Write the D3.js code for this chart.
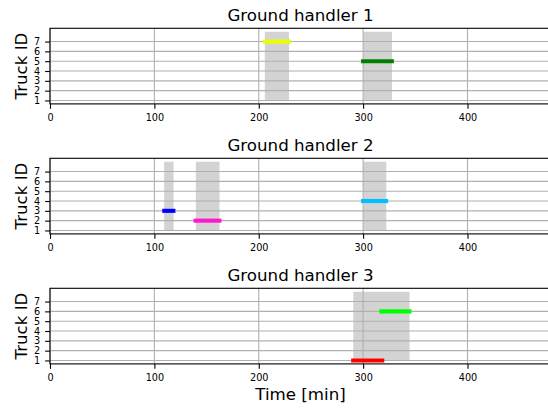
<!DOCTYPE html>
<html><head><meta charset="utf-8">
<script src="https://cdn.jsdelivr.net/npm/d3@7"></script>
<style>body{margin:0;background:#fff}svg{display:block;font-family:"DejaVu Sans",sans-serif}</style>
</head><body><svg id="c" width="548" height="412"></svg>
<script>
const handlers = ["Ground handler 1", "Ground handler 2", "Ground handler 3"];
const xTicks = [0, 100, 200, 300, 400];
const yTicks = [1, 2, 3, 4, 5, 6, 7];
// tasks (lines)
const taskHandler = [0, 0, 1, 1, 1, 2, 2];
const taskTruck   = [7, 5, 3, 2, 4, 1, 6];
const taskStart   = [206, 300, 109.5, 139.5, 300, 290.5, 317.5];
const taskEnd     = [229, 327.5, 118.2, 162.3, 322, 318.3, 344.4];
const taskColor   = ["#e8ff00", "#008000", "#0000ff", "#ff17cf", "#00bfff", "#ff0000", "#00ff00"];
// busy windows (grey boxes)
const boxHandler = [0, 0, 1, 1, 1, 2];
const boxStart   = [205.8, 300.2, 109.4, 139.7, 300.2, 290.6];
const boxEnd     = [229, 327.6, 118.4, 162.4, 322.2, 344.5];
const boxLow = 1, boxHigh = 8;
const xLabel = "Time [min]", yLabel = "Truck ID";

const svg = d3.select("#c");
const left = 50, right = 551, axH = 75.6;
const tops = [28.3, 158.3, 288.3];
const x = d3.scaleLinear().domain([0, 480]).range([left, right]);

handlers.forEach((name, h) => {
  const top = tops[h], bot = top + axH;
  const y = d3.scaleLinear().domain([0.65, 8.35]).range([bot, top]);
  const g = svg.append("g");
  // boxes
  boxHandler.forEach((bh, i) => {
    if (bh !== h) return;
    g.append("rect").attr("x", x(boxStart[i])).attr("width", x(boxEnd[i]) - x(boxStart[i]))
      .attr("y", y(boxHigh)).attr("height", y(boxLow) - y(boxHigh)).attr("fill", "#d3d3d3");
  });
  // grid
  xTicks.forEach(t => g.append("line").attr("x1", x(t)).attr("x2", x(t)).attr("y1", top).attr("y2", bot)
    .attr("stroke", "#b0b0b0").attr("stroke-width", 1.1));
  yTicks.forEach(t => g.append("line").attr("x1", left).attr("x2", right).attr("y1", y(t)).attr("y2", y(t))
    .attr("stroke", "#b0b0b0").attr("stroke-width", 1.1));
  // task lines
  taskHandler.forEach((th, i) => {
    if (th !== h) return;
    g.append("line").attr("x1", x(taskStart[i])).attr("x2", x(taskEnd[i]))
      .attr("y1", y(taskTruck[i])).attr("y2", y(taskTruck[i]))
      .attr("stroke", taskColor[i]).attr("stroke-width", 4.1).attr("stroke-linecap", "square");
  });
  // frame
  g.append("rect").attr("x", left).attr("y", top).attr("width", right - left).attr("height", axH)
    .attr("fill", "none").attr("stroke", "#000").attr("stroke-width", 1.1);
  // axes
  const xa = g.append("g").attr("transform", `translate(0,${bot})`)
    .call(d3.axisBottom(x).tickValues(xTicks).tickSize(4.9).tickPadding(5.5).tickFormat(d3.format("d")));
  const ya = g.append("g").attr("transform", `translate(${left},0)`)
    .call(d3.axisLeft(y).tickValues(yTicks).tickSize(4.9).tickPadding(4.9).tickFormat(d3.format("d")));
  [xa, ya].forEach(a => {
    a.select(".domain").remove();
    a.selectAll(".tick line").attr("stroke", "#000").attr("stroke-width", 1.1);
    a.selectAll(".tick text").attr("font-size", "9.7px").attr("fill", "#000").attr("font-family", "DejaVu Sans");
  });
  // title
  g.append("text").attr("x", (left + right) / 2).attr("y", top - 7.3).attr("text-anchor", "middle")
    .attr("font-size", "16.67px").attr("fill", "#000").text(name);
  // y label
  g.append("text").attr("transform", `translate(26.5,${(top + bot) / 2}) rotate(-90)`)
    .attr("text-anchor", "middle").attr("font-size", "16.67px").attr("fill", "#000").text(yLabel);
});
svg.append("text").attr("x", (left + right) / 2).attr("y", 400).attr("text-anchor", "middle")
  .attr("font-size", "16.67px").attr("fill", "#000").text(xLabel);
</script></body></html>
